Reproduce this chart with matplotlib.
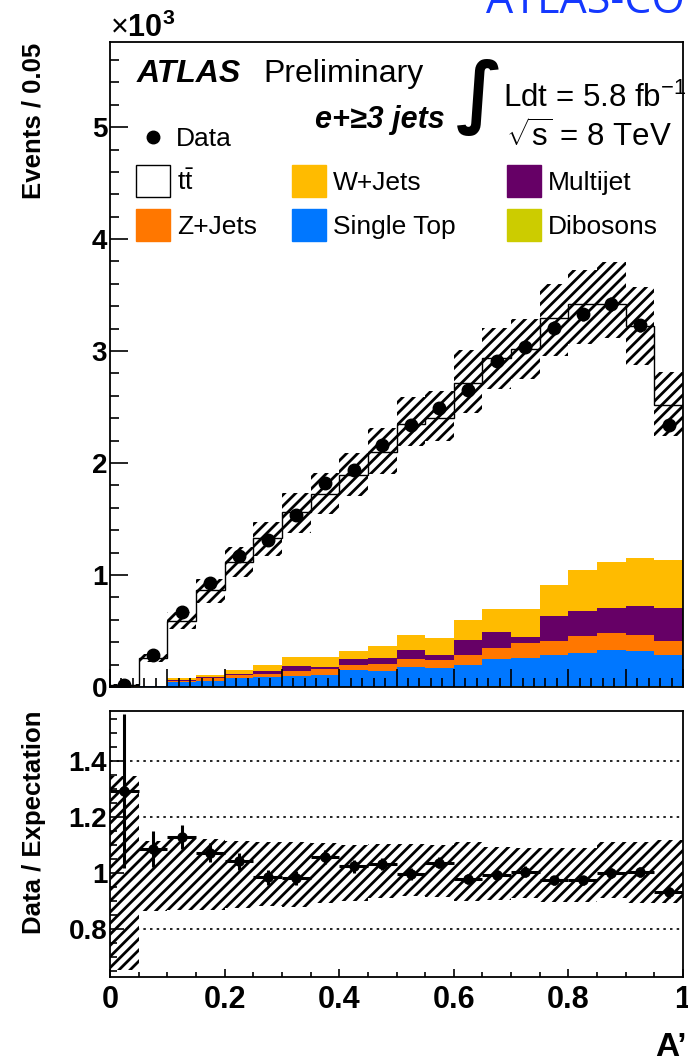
import numpy as np
import matplotlib
matplotlib.use('Agg')
from matplotlib import pyplot as plt
from matplotlib.ticker import MultipleLocator, FuncFormatter
from matplotlib.patches import Rectangle
from matplotlib.lines import Line2D

plt.rcParams['font.family'] = ['Liberation Sans', 'DejaVu Sans']
plt.rcParams['mathtext.fontset'] = 'custom'
plt.rcParams['mathtext.rm'] = 'Liberation Sans'
plt.rcParams['mathtext.it'] = 'Liberation Sans:italic'
plt.rcParams['mathtext.bf'] = 'Liberation Sans:bold'
plt.rcParams['hatch.linewidth'] = 2.0

# A' distribution, 20 bins of 0.05
bin_edges = np.linspace(0.0, 1.0, 21)
centers = 0.5 * (bin_edges[:-1] + bin_edges[1:])

# predicted events per bin (stack order bottom -> top)
dibosons   = [0, 0, 1, 1, 1, 1, 2, 2, 2, 3, 3, 3, 4, 5, 5, 6, 6, 7, 7, 6]
single_top = [2, 5, 41, 57, 75, 84, 100, 108, 150, 143, 178, 163, 192, 248, 254, 283, 301, 324, 318, 283]
z_jets     = [1, 2, 13, 22, 27, 33, 44, 48, 43, 62, 69, 72, 90, 99, 130, 124, 151, 154, 142, 124]
multijet   = [0, 1, 5, 10, 12, 28, 40, 24, 51, 47, 81, 45, 136, 136, 60, 217, 220, 220, 253, 292]
w_jets     = [2, 2, 18, 20, 37, 51, 79, 89, 79, 109, 136, 151, 180, 205, 244, 280, 367, 412, 434, 431]
ttbar      = [12, 252, 515, 754, 968, 1133, 1298, 1455, 1571, 1731, 1878, 1971, 2112, 2244, 2327,
              2388, 2375, 2303, 2066, 1379]

# observed events
data = [22, 284, 669, 927, 1166, 1310, 1533, 1824, 1940, 2160, 2338, 2494, 2654, 2913, 3035,
        3209, 3328, 3420, 3230, 2341]

# relative systematic band (up / down) on the expectation
band_hi = [1.345, 1.116, 1.122, 1.12, 1.116, 1.11, 1.11, 1.107, 1.10, 1.104,
           1.104, 1.10, 1.11, 1.092, 1.088, 1.09, 1.09, 1.11, 1.11, 1.118]
band_lo = [0.652, 0.863, 0.866, 0.866, 0.875, 0.881, 0.88, 0.893, 0.90, 0.91,
           0.917, 0.914, 0.90, 0.905, 0.91, 0.895, 0.895, 0.91, 0.893, 0.893]

stack = [('Dibosons', dibosons, '#cccc00'),
         ('Single Top', single_top, '#0077ff'),
         ('Z+Jets', z_jets, '#ff7700'),
         ('Multijet', multijet, '#660066'),
         ('W+Jets', w_jets, '#ffbb00')]

W, H = 688, 1059
fig = plt.figure(figsize=(W / 100, H / 100), dpi=100)

def fpx(x, y):
    return x / W, 1 - y / H

# main pad: x 110..683, y 42..687 ; ratio pad: y 711..977
ax = fig.add_axes([110 / W, 1 - 687 / H, 573 / W, 645 / H])
ax2 = fig.add_axes([110 / W, 1 - 977 / H, 573 / W, 266 / H])

bottom = np.zeros(len(centers))
for name, vals, col in stack:
    top = bottom + np.array(vals)
    ax.stairs(top, bin_edges, baseline=bottom, fill=True, color=col, lw=0)
    bottom = top
total = bottom + np.array(ttbar)
ax.stairs(total, bin_edges, baseline=bottom, fill=True, color='white', lw=0)
ax.stairs(total, bin_edges, color='black', lw=1.0, baseline=0)

hi = np.array(band_hi)
lo = np.array(band_lo)
ax.stairs(total * hi, bin_edges, baseline=total * lo, fill=True, facecolor='none',
          edgecolor='black', hatch='///', lw=0, zorder=3)

data = np.array(data, dtype=float)
ax.errorbar(centers, data, yerr=np.sqrt(data), fmt='o', color='black', ms=9,
            elinewidth=1.8, capsize=0, zorder=5)

ax.set_xlim(0, 1)
ax.set_ylim(0, 5760)
ax.xaxis.set_major_locator(MultipleLocator(0.1))
ax.xaxis.set_minor_locator(MultipleLocator(0.02))
ax.yaxis.set_major_locator(MultipleLocator(1000))
ax.yaxis.set_minor_locator(MultipleLocator(200))
ax.yaxis.set_major_formatter(FuncFormatter(lambda v, p: '%d' % round(v / 1000)))
ax.tick_params(which='both', direction='in', top=False, right=False, width=1.2)
ax.tick_params(axis='x', labelbottom=False)
ax.tick_params(which='major', length=13)
ax.tick_params(which='minor', length=6.5)
ax.tick_params(axis='y', labelsize=20, pad=2)
for lab in ax.get_yticklabels():
    lab.set_fontweight('bold')

# ratio pad
ratio = data / total
ratio_err = np.sqrt(data) / total
for yv in [0.8, 1.0, 1.2, 1.4]:
    ax2.axhline(yv, color='black', ls=(0, (1.5, 2.5)), lw=1.2, zorder=0.5)
ax2.stairs(hi, bin_edges, baseline=lo, fill=True, facecolor='white',
           edgecolor='black', hatch='///', lw=0, zorder=1)
ax2.errorbar(centers, ratio, yerr=ratio_err, xerr=0.025, fmt='o', color='black',
             ms=6.5, elinewidth=2.2, capsize=0, zorder=5)
ax2.set_xlim(0, 1)
ax2.set_ylim(0.628, 1.579)
ax2.xaxis.set_major_locator(MultipleLocator(0.2))
ax2.xaxis.set_minor_locator(MultipleLocator(0.05))
ax2.yaxis.set_major_locator(MultipleLocator(0.2))
ax2.yaxis.set_minor_locator(MultipleLocator(0.05))
fmt = FuncFormatter(lambda v, p: '%g' % round(v, 2))
ax2.xaxis.set_major_formatter(fmt)
ax2.yaxis.set_major_formatter(fmt)
ax2.tick_params(which='both', direction='in', top=False, right=False, width=1.2)
ax2.tick_params(axis='y', which='major', length=10, labelsize=20, pad=2)
ax2.tick_params(axis='y', which='minor', length=5)
ax2.tick_params(axis='x', which='major', length=6, labelsize=22, pad=6)
ax2.tick_params(axis='x', which='minor', length=3.5)
for lab in ax2.get_xticklabels() + ax2.get_yticklabels():
    lab.set_fontweight('bold')

for a in (ax, ax2):
    for s in a.spines.values():
        s.set_linewidth(1.3)

# axis titles
fig.text(*fpx(34, 43), 'Events / 0.05', rotation=90, ha='center', va='top',
         fontsize=18.5, fontweight='bold')
fig.text(*fpx(34, 711), 'Data / Expectation', rotation=90, ha='center', va='top',
         fontsize=18.5, fontweight='bold')
fig.text(*fpx(687, 1056), 'A\u2019', ha='right', va='baseline', fontsize=24, fontweight='bold')
fig.text(*fpx(110, 37), r'$\times$10$^{\mathbf{3}}$', ha='left', va='baseline',
         fontsize=22, fontweight='bold')

# header texts
fig.text(*fpx(486, 13), 'ATLAS-CONF-2012', color='#1438ff', fontsize=31,
         family=['Open Sans', 'DejaVu Sans'], ha='left', va='baseline')
fig.text(*fpx(137, 82), 'ATLAS', fontsize=23, fontweight='bold', style='italic',
         ha='left', va='baseline')
fig.text(*fpx(263, 82), 'Preliminary', fontsize=23, ha='left', va='baseline')
fig.text(*fpx(445, 128), 'e+\u22653 jets', fontsize=22, fontweight='bold', style='italic',
         ha='right', va='baseline')
fig.text(*fpx(480, 98), '\u222b', fontsize=56, family='DejaVu Sans', fontweight='bold',
         ha='center', va='center')
fig.text(*fpx(503, 107), r'Ldt = 5.8 fb$^{-1}$', fontsize=22.5, ha='left', va='baseline')
fig.text(*fpx(672, 147), r'$\sqrt{\mathrm{s}}$ = 8 TeV', fontsize=22.5, ha='right',
         va='baseline')

# legend
fig.add_artist(Line2D([153 / W], [1 - 137 / H], marker='o', color='black', ms=9,
                      transform=fig.transFigure))
fig.text(*fpx(176, 146), 'Data', fontsize=19, ha='left', va='baseline')
legend_rows = [
    [('$\\mathrm{t\\bar{t}}$', 'white'), ('W+Jets', '#ffbb00'), ('Multijet', '#660066')],
    [('Z+Jets', '#ff7700'), ('Single Top', '#0077ff'), ('Dibosons', '#cccc00')],
]
box_x = [136, 292, 507]
row_y = [165, 209]
for row, y0 in zip(legend_rows, row_y):
    for (label, col), x0 in zip(row, box_x):
        ec = 'black' if col == 'white' else col
        fig.add_artist(Rectangle(fpx(x0, y0 + 32), 34 / W, 32 / H, facecolor=col,
                                 edgecolor=ec, lw=1.0, transform=fig.transFigure))
        fig.text(*fpx(x0 + 41, y0 + 25), label, fontsize=19, ha='left', va='baseline')

fig.savefig('out.png', dpi=100)
